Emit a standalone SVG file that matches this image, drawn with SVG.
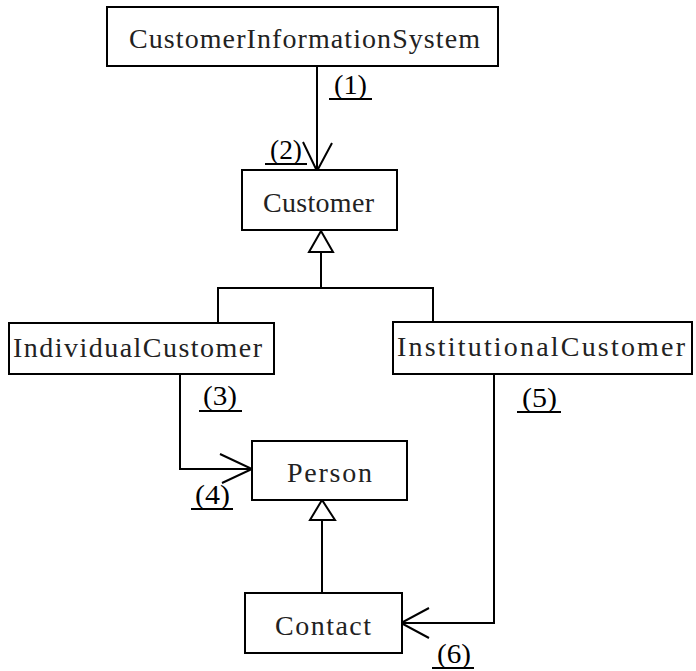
<svg xmlns="http://www.w3.org/2000/svg" width="696" height="671" viewBox="0 0 696 671">
<style>
.box{fill:#fff;stroke:#000;stroke-width:2}
.name{font-family:"Liberation Serif","Noto Sans CJK SC",serif;font-size:28px;fill:#222}
.lbl{font-family:"Liberation Serif","Noto Sans CJK SC",serif;font-size:27px;fill:#000}
.ln{fill:none;stroke:#000;stroke-width:2}
.tri{fill:#fff;stroke:#000;stroke-width:2}
</style>
<rect width="696" height="671" fill="#fff"/>
<g id="connectors">
<line class="ln" x1="317" y1="66" x2="317" y2="170"/>
<polyline class="ln" points="303,142 317,171 332,143"/>
<polyline class="ln" points="321,252 321,288"/>
<polyline class="ln" points="218,323 218,288 433,288 433,322"/>
<polygon class="tri" points="321,231 309,252 333,252"/>
<polyline class="ln" points="180,374 180,469 252,469"/>
<polyline class="ln" points="220,454 252,469 222,483"/>
<polyline class="ln" points="494,374 494,623 402,623"/>
<polyline class="ln" points="429,608 401,623 429,638"/>
<line class="ln" x1="322" y1="520" x2="322" y2="593"/>
<polygon class="tri" points="322,500 310,520 335,520"/>
</g>
<g id="labels">
<text class="lbl" x="334" y="94" textLength="33" lengthAdjust="spacingAndGlyphs">(1)</text>
<line class="ln" x1="329" y1="99" x2="372" y2="99"/>
<text class="lbl" x="270" y="159" textLength="32" lengthAdjust="spacingAndGlyphs">(2)</text>
<line class="ln" x1="265" y1="164" x2="307" y2="164"/>
<text class="lbl" x="203" y="405" textLength="34" lengthAdjust="spacingAndGlyphs">(3)</text>
<line class="ln" x1="199" y1="411" x2="242" y2="411"/>
<text class="lbl" x="195" y="504" textLength="35" lengthAdjust="spacingAndGlyphs">(4)</text>
<line class="ln" x1="191" y1="509" x2="233" y2="509"/>
<text class="lbl" x="522" y="407" textLength="35" lengthAdjust="spacingAndGlyphs">(5)</text>
<line class="ln" x1="517" y1="412" x2="561" y2="412"/>
<text class="lbl" x="437" y="663" textLength="34" lengthAdjust="spacingAndGlyphs">(6)</text>
<line class="ln" x1="432" y1="668" x2="474" y2="668"/>
</g>
<g id="CustomerInformationSystem">
<rect class="box" x="107" y="7" width="391" height="59"/>
<text class="name" x="129" y="48" textLength="351" lengthAdjust="spacing">CustomerInformationSystem</text>
</g>
<g id="Customer">
<rect class="box" x="242" y="170" width="155" height="60"/>
<text class="name" x="263" y="212" textLength="111" lengthAdjust="spacing">Customer</text>
</g>
<g id="IndividualCustomer">
<rect class="box" x="9" y="323" width="265" height="51"/>
<text class="name" x="13" y="357" textLength="249" lengthAdjust="spacing">IndividualCustomer</text>
</g>
<g id="InstitutionalCustomer">
<rect class="box" x="393" y="322" width="299" height="52"/>
<text class="name" x="397" y="356" textLength="288" lengthAdjust="spacing">InstitutionalCustomer</text>
</g>
<g id="Person">
<rect class="box" x="252" y="441" width="155" height="59"/>
<text class="name" x="287" y="482" textLength="85" lengthAdjust="spacing">Person</text>
</g>
<g id="Contact">
<rect class="box" x="245" y="593" width="157" height="60"/>
<text class="name" x="275" y="635" textLength="96" lengthAdjust="spacing">Contact</text>
</g>
</svg>
